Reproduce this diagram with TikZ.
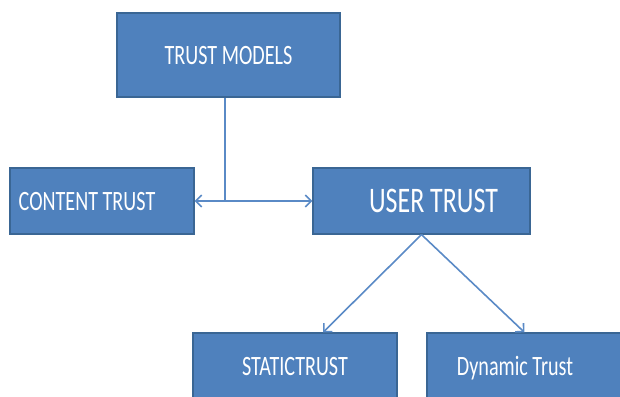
\documentclass[tikz,border=0pt]{standalone}
\usepackage{fontspec}
\newfontfamily\boxfont[FakeStretch=0.72]{Carlito}
\usetikzlibrary{arrows.meta}
\definecolor{boxblue}{HTML}{4F81BD}
\definecolor{boxedge}{HTML}{3A6694}
\definecolor{linkblue}{HTML}{5A8AC6}
\tikzset{
	box/.style={draw=boxedge, line width=1.2pt, fill=boxblue, text=white, inner sep=0pt, text depth=0pt,
		font=\boxfont\fontsize{28}{30}\selectfont},
	bigbox/.style={box, font=\boxfont\fontsize{36}{40}\selectfont},
	link/.style={draw=linkblue, line width=1.6pt}
}
\begin{document}
\begin{tikzpicture}[x=1pt, y=-1pt, >={Straight Barb[length=6pt,width=12pt]}]
	\useasboundingbox (0,0) rectangle (620,396);
	\clip (0,0) rectangle (620,396);
	\node[box, minimum width=223pt, minimum height=84pt] (tm) at (228.5,55) {TRUST MODELS};
	\node[box, minimum width=184pt, minimum height=66pt] (ct) at (102,201) {CONTENT TRUST\hspace*{30pt}};
	\node[bigbox, minimum width=217pt, minimum height=66pt] (ut) at (421.5,201) {\hspace*{24pt}USER TRUST};
	\node[box, minimum width=204pt, minimum height=66pt] (st) at (295,366) {STATICTRUST};
	\node[box, minimum width=195pt, minimum height=66pt] (dt) at (524.5,366) {Dynamic Trust\hspace*{19pt}};
	\coordinate (j) at (225,201);
	\draw[link] (tm.south -| j) -- (j);
	\draw[link,<->] (ct.east) -- (ut.west);
	\draw[link,->] (ut.south) -- ([xshift=28pt]st.north);
	\draw[link,->] (ut.south) -- (dt.north);
\end{tikzpicture}
\end{document}
